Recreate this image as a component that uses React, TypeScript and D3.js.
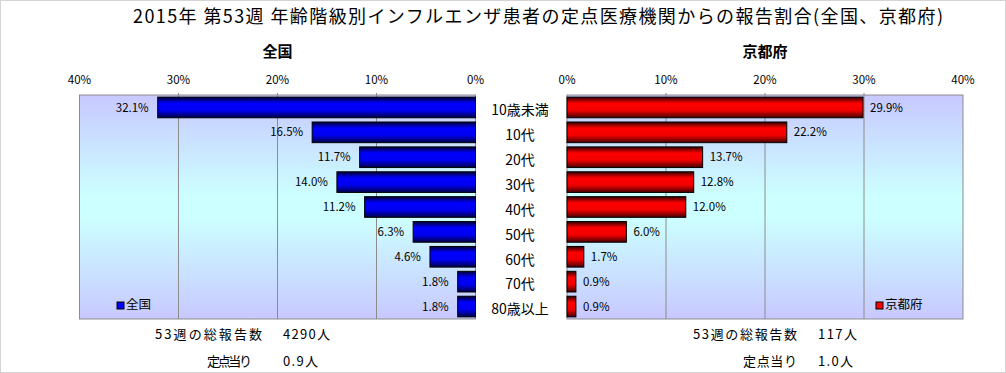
import React from 'react'
import * as d3 from 'd3'

const categories = ['10歳未満', '10代', '20代', '30代', '40代', '50代', '60代', '70代', '80歳以上']
const zenkoku = [32.1, 16.5, 11.7, 14.0, 11.2, 6.3, 4.6, 1.8, 1.8]
const kyoto = [29.9, 22.2, 13.7, 12.8, 12.0, 6.0, 1.7, 0.9, 0.9]
const ticks = [0, 10, 20, 30, 40]
const totalReports = ['4290人', '117人']
const perSite = ['0.9人', '1.0人']

const W = 1006
const H = 373
const FONT = '"Noto Sans CJK JP", "Liberation Sans", sans-serif'

const App = () => {
  const xL = d3.scaleLinear().domain([0, 40]).range([475.5, 79.5])
  const xR = d3.scaleLinear().domain([0, 40]).range([567, 963])
  const y = d3.scaleBand().domain(categories).range([95, 319]).paddingInner(0.17).paddingOuter(0.085)
  const bh = y.bandwidth()

  const panel = (x: d3.ScaleLinear<number, number>, vals: number[], left: boolean, name: string, fill: string) => {
    const x0 = Math.min(x.range()[0], x.range()[1])
    const x1 = Math.max(x.range()[0], x.range()[1])
    return (
      <g>
        <rect x={x0} y={95} width={x1 - x0} height={224} fill='url(#bg)' />
        {ticks.slice(1, 4).map(t => (
          <line key={t} x1={x(t)} x2={x(t)} y1={93} y2={319} stroke='#8c8c8c' />
        ))}
        <rect x={x0} y={95} width={x1 - x0} height={224} fill='none' stroke='#8c8c8c' />
        {ticks.map(t => (
          <text key={t} x={x(t)} y={84} textAnchor='middle' fontSize={11.5} fill='#000'>{t}%</text>
        ))}
        {vals.map((v, i) => {
          const yy = y(categories[i]) as number
          const a = Math.min(x(0), x(v))
          const w = Math.abs(x(v) - x(0))
          return (
            <g key={i}>
              <rect x={a} y={yy} width={w} height={bh} fill={fill} stroke='#000' strokeWidth={1} />
              <text
                x={left ? x(v) - 9 : x(v) + 7}
                y={yy + bh / 2 + 1}
                textAnchor={left ? 'end' : 'start'}
                dominantBaseline='middle'
                fontSize={11.5}
              >{v.toFixed(1)}%</text>
            </g>
          )
        })}
        <text x={(x0 + x1) / 2} y={57} textAnchor='middle' fontSize={15} fontWeight='bold'>{name}</text>
      </g>
    )
  }

  return (
    <div style={{ position: 'absolute', left: 0, top: 0 }}>
      <svg width={W} height={H} style={{ display: 'block', fontFamily: FONT }}>
        <defs>
          <linearGradient id='bg' x1='0' y1='0' x2='0' y2='1'>
            <stop offset='0' stopColor='#c8c8ff' />
            <stop offset='0.45' stopColor='#ccffff' />
            <stop offset='0.55' stopColor='#ccffff' />
            <stop offset='1' stopColor='#c8c8ff' />
          </linearGradient>
          <linearGradient id='blue' x1='0' y1='0' x2='0' y2='1'>
            <stop offset='0' stopColor='#000033' />
            <stop offset='0.3' stopColor='#0000ff' />
            <stop offset='0.65' stopColor='#0000f0' />
            <stop offset='1' stopColor='#000044' />
          </linearGradient>
          <linearGradient id='red' x1='0' y1='0' x2='0' y2='1'>
            <stop offset='0' stopColor='#330000' />
            <stop offset='0.3' stopColor='#ff0000' />
            <stop offset='0.65' stopColor='#f00000' />
            <stop offset='1' stopColor='#440000' />
          </linearGradient>
        </defs>
        <rect x={0.5} y={0.5} width={W - 1} height={H - 1} fill='#fff' stroke='#d4d4d4' />
        <text x={538} y={23} textAnchor='middle' fontSize={18} textLength={810} lengthAdjust='spacing'>
          2015年 第53週 年齢階級別インフルエンザ患者の定点医療機関からの報告割合(全国、京都府)
        </text>
        {panel(xL, zenkoku, true, '全国', 'url(#blue)')}
        {panel(xR, kyoto, false, '京都府', 'url(#red)')}
        {categories.map(c => (
          <text key={c} x={520} y={(y(c) as number) + bh / 2 + 4} textAnchor='middle' dominantBaseline='middle' fontSize={14}>{c}</text>
        ))}
        <rect x={117} y={302} width={7} height={7} fill='#0000ff' stroke='#000' />
        <text x={126} y={306} dominantBaseline='middle' fontSize={12.5}>全国</text>
        <rect x={876} y={302} width={7} height={7} fill='#ff0000' stroke='#000' />
        <text x={885} y={306} dominantBaseline='middle' fontSize={12.5}>京都府</text>
        <text x={155} y={335} dominantBaseline='middle' fontSize={13} textLength={107}>53週の総報告数</text>
        <text x={283} y={335} dominantBaseline='middle' fontSize={13} textLength={47}>{totalReports[0]}</text>
        <text x={207} y={362} dominantBaseline='middle' fontSize={13} textLength={45}>定点当り</text>
        <text x={283} y={362} dominantBaseline='middle' fontSize={13} textLength={35}>{perSite[0]}</text>
        <text x={693} y={335} dominantBaseline='middle' fontSize={13} textLength={104}>53週の総報告数</text>
        <text x={818} y={335} dominantBaseline='middle' fontSize={13} textLength={39}>{totalReports[1]}</text>
        <text x={743} y={362} dominantBaseline='middle' fontSize={13} textLength={54}>定点当り</text>
        <text x={818} y={362} dominantBaseline='middle' fontSize={13} textLength={35}>{perSite[1]}</text>
      </svg>
    </div>
  )
}

export default App
